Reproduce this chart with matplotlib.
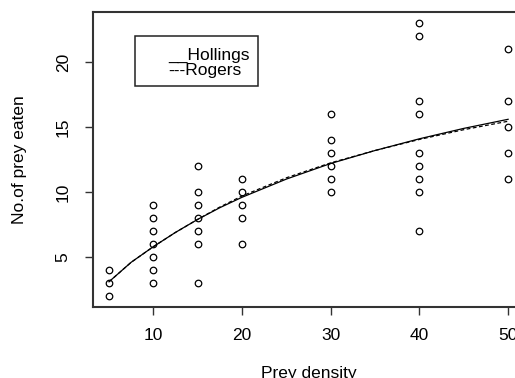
import matplotlib
matplotlib.use("Agg")
import matplotlib.pyplot as plt
from matplotlib.patches import Rectangle

plt.rcParams["font.family"] = ["Liberation Sans", "DejaVu Sans"]

# ── Data ─────────────────────────────────────────────────────────────
density_5 = [5, 5, 5]
eaten_5 = [2, 3, 4]
density_10 = [10] * 7
eaten_10 = [3, 4, 5, 6, 7, 8, 9]
density_15 = [15] * 7
eaten_15 = [3, 6, 7, 8, 9, 10, 12]
density_20 = [20] * 5
eaten_20 = [6, 8, 9, 10, 11]
density_30 = [30] * 6
eaten_30 = [10, 11, 12, 13, 14, 16]
density_40 = [40] * 9
eaten_40 = [7, 10, 11, 12, 13, 16, 17, 22, 23]
density_50 = [50] * 5
eaten_50 = [11, 13, 15, 17, 21]

prey_density = (density_5 + density_10 + density_15 + density_20
                + density_30 + density_40 + density_50)
prey_eaten = (eaten_5 + eaten_10 + eaten_15 + eaten_20
              + eaten_30 + eaten_40 + eaten_50)

curve_x = [5, 7.5, 10, 12.5, 15, 17.5, 20, 25, 30, 35, 40, 45, 50]
hollings_y = [3.1, 4.6, 5.8, 6.9, 7.9, 8.8, 9.6, 11.0, 12.2, 13.2, 14.1, 14.9, 15.6]
rogers_y = [3.1, 4.6, 5.8, 6.9, 7.9, 8.85, 9.7, 11.1, 12.25, 13.2, 14.05, 14.8, 15.45]

x_ticks = [10, 20, 30, 40, 50]
y_ticks = [5, 10, 15, 20]

# ── Plot ──────────────────────────────────────────────────────────────
FS = 12.5

fig = plt.figure(figsize=(5.15, 3.78), dpi=100)
ax = fig.add_axes([0.1806, 0.1878, 0.837, 0.780])

ax.plot(prey_density, prey_eaten, linestyle="none", marker="o", markersize=4.7,
        markerfacecolor="none", markeredgecolor="black", markeredgewidth=0.9)
ax.plot(curve_x, hollings_y, color="black", linewidth=0.9)
ax.plot(curve_x, rogers_y, color="black", linewidth=0.9, linestyle=(0, (3, 2)))

ax.set_xlim(3.2, 51.8)
ax.set_ylim(1.16, 23.84)
ax.set_xticks(x_ticks)
ax.set_yticks(y_ticks)
ax.tick_params(axis="both", labelsize=FS, length=6, width=1, color="#333333")
ax.tick_params(axis="x", pad=9)
ax.tick_params(axis="y", pad=10)
for lab in ax.get_yticklabels():
    lab.set_rotation(90)
    lab.set_va("center")

for side in ["left", "bottom", "top", "right"]:
    ax.spines[side].set_linewidth(1.5)
    ax.spines[side].set_color("#333333")

ax.set_xlabel("Prey density", fontsize=FS, labelpad=17)
ax.set_ylabel("No.of prey eaten", fontsize=FS, labelpad=21)

# legend box drawn like the R original (text only)
ax.add_patch(Rectangle((0.0974, 0.749), 0.2856, 0.170, transform=ax.transAxes,
                       fill=False, edgecolor="#222222", linewidth=1.1))
ax.text(0.174, 0.854, "__Hollings", transform=ax.transAxes, fontsize=FS,
        va="center", ha="left")
ax.text(0.174, 0.803, "---Rogers", transform=ax.transAxes, fontsize=FS,
        va="center", ha="left")

fig.savefig("out.png", dpi=100)
